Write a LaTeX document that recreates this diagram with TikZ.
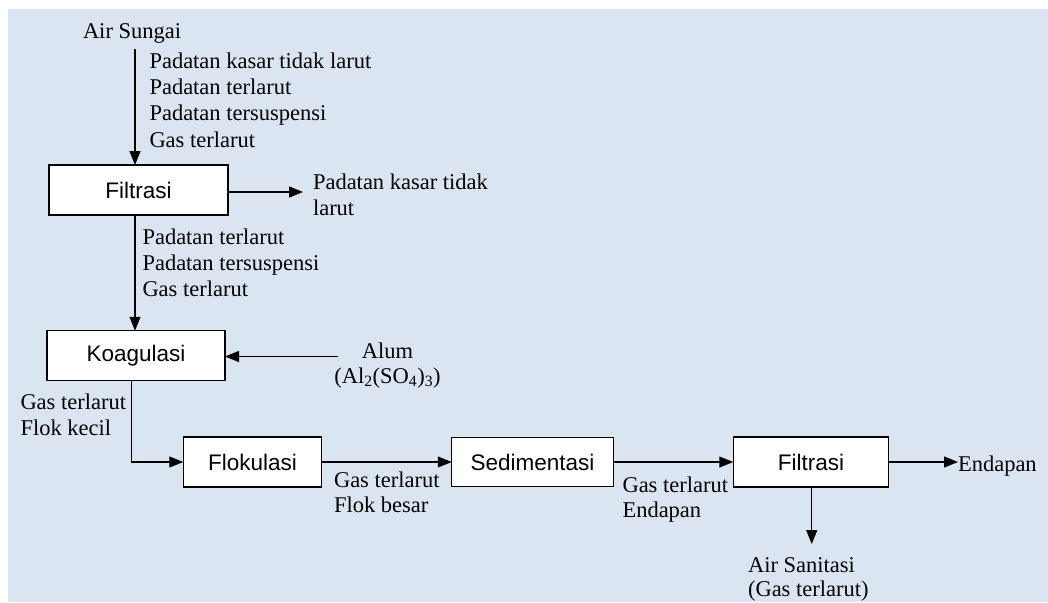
\documentclass[tikz,border=0pt]{standalone}
\usepackage{fontspec}
\setmainfont{Liberation Serif}
\setsansfont{Liberation Sans}
\usetikzlibrary{arrows.meta}
\definecolor{bgblue}{RGB}{219,229,241}
\begin{document}
\begin{tikzpicture}[x=1pt,y=-1pt,
  every node/.style={inner sep=0pt,outer sep=0pt},
  txt/.style={font=\fontsize{22.5}{26}\selectfont,anchor=base west},
  ctxt/.style={font=\fontsize{22.5}{26}\selectfont,anchor=base},
  unit/.style={draw,line width=1.2pt,fill=white,font=\sffamily\fontsize{22.5}{26}\selectfont},
  flow/.style={line width=1.2pt,-{Triangle[length=14pt,width=11pt]}}]
  % page and background panel
  \useasboundingbox (0,0) rectangle (1048,602);
  \fill[bgblue] (8,9) rectangle (1048,602);

  % process units
  \node[unit,minimum width=179pt,minimum height=50pt] (f1) at (138.5,190) {Filtrasi};
  \node[unit,minimum width=178pt,minimum height=49.5pt] (ko) at (136,355.5) {Koagulasi};
  \node[unit,minimum width=138.5pt,minimum height=50pt] (fl) at (252.5,462) {Flokulasi};
  \node[unit,minimum width=161.5pt,minimum height=49.5pt] (se) at (532.5,462) {Sedimentasi};
  \node[unit,minimum width=155.5pt,minimum height=50pt] (f2) at (811,462) {Filtrasi};

  % river water inlet
  \node[txt] (air) at (83,38) {Air Sungai};
  \coordinate (in) at (135,49);
  \draw[flow] (in) -- (in |- f1.north);
  \node[txt] (l1) at (149.5,68) {Padatan kasar tidak larut};
  \node[txt] (l2) at (149.5,94.5) {Padatan terlarut};
  \node[txt] (l3) at (149.5,120.5) {Padatan tersuspensi};
  \node[txt] (l4) at (149.5,147) {Gas terlarut};

  % coarse solids out of the first filter
  \coordinate (cs) at (303,192);
  \draw[flow] (f1.east |- cs) -- (cs);
  \node[txt] (c1) at (313,189) {Padatan kasar tidak};
  \node[txt] (c2) at (313,215.5) {larut};

  % filter to coagulation
  \coordinate (fk) at (135,215);
  \draw[flow] (fk) -- (fk |- ko.north);
  \node[txt] (m1) at (142.5,244) {Padatan terlarut};
  \node[txt] (m2) at (142.5,270) {Padatan tersuspensi};
  \node[txt] (m3) at (142.5,296.5) {Gas terlarut};

  % alum dosing
  \node[ctxt] (alum) at (387.5,358) {Alum};
  \node[ctxt] (alf) at (387.5,383) {(Al\textsubscript{2}(SO\textsubscript{4})\textsubscript{3})};
  \coordinate (ad) at (338,356.5);
  \draw[flow] (ad) -- (ko.east |- ad);

  % coagulation to flocculation
  \coordinate (kd) at (131.7,380);
  \draw[flow] (kd) |- (fl.west);
  \node[txt] (g1) at (20.5,409) {Gas terlarut};
  \node[txt] (g2) at (20.5,435) {Flok kecil};

  % flocculation to sedimentation
  \draw[flow] (fl.east) -- (se.west);
  \node[txt] (h1) at (334,487.5) {Gas terlarut};
  \node[txt] (h2) at (334,512.5) {Flok besar};

  % sedimentation to final filter
  \draw[flow] (se.east) -- (f2.west);
  \node[txt] (s1) at (622.5,492.5) {Gas terlarut};
  \node[txt] (s2) at (622.5,517.5) {Endapan};

  % final filter outputs
  \node[txt] (end) at (958,471.5) {Endapan};
  \draw[flow] (f2.east) -- (end.west |- f2.east);
  \coordinate (out) at (811.7,544);
  \draw[flow] (out |- f2.south) -- (out);
  \node[txt] (w1) at (748,572.5) {Air Sanitasi};
  \node[txt] (w2) at (748,596.5) {(Gas terlarut)};
\end{tikzpicture}
\end{document}
